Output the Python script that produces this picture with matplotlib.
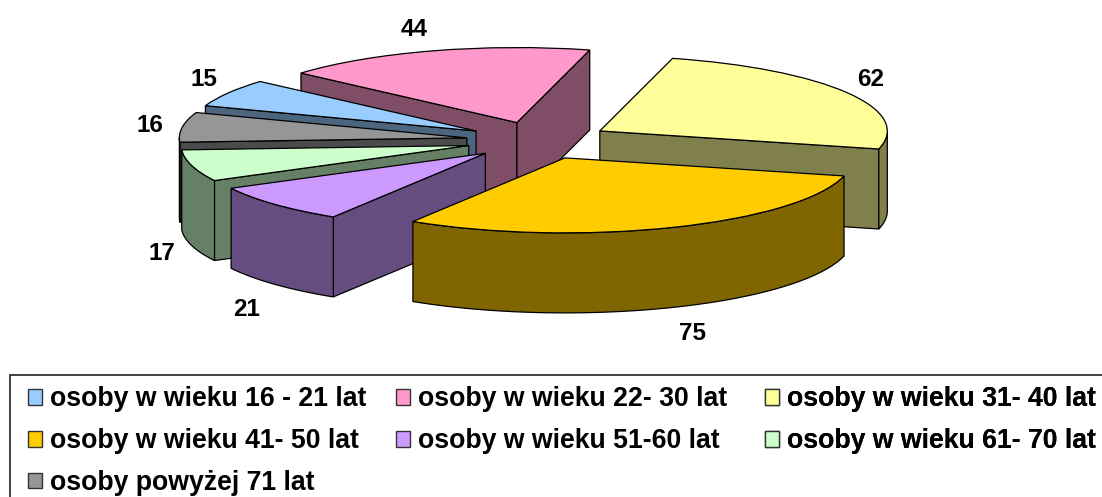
import matplotlib
matplotlib.use("Agg")
import matplotlib.pyplot as plt
from matplotlib.patches import Patch, Polygon, Rectangle
import numpy as np

plt.rcParams['font.family'] = ['Liberation Sans', 'DejaVu Sans']

# data
labels = ["osoby w wieku 16 - 21 lat", "osoby w wieku 22- 30 lat", "osoby w wieku 31- 40 lat",
          "osoby w wieku 41- 50 lat", "osoby w wieku 51-60 lat", "osoby w wieku 61- 70 lat",
          "osoby powyżej 71 lat"]
values = [15, 44, 62, 75, 21, 17, 16]
colors = ["#99CCFF", "#FF99CC", "#FFFF99", "#FFCC00", "#CC99FF", "#CCFFCC", "#969696"]
walls = ["#4D6680", "#804D66", "#80804D", "#806600", "#664D80", "#668066", "#4B4B4B"]
paint_order = [1, 2, 0, 6, 5, 4, 3]
# where the value labels sit, in pixels
label_px = [(204, 79), (414, 29), (871, 79), (693, 334), (247, 309), (162, 253), (150, 126)]

W, H = 1102, 497
cx, cy = 538.0, 140.5   # pie centre
rx, ry = 287.5, 75.0    # ellipse radii
depth = 80.0 / ry

fig = plt.figure(figsize=(W / 100, H / 100), dpi=100)
ax = fig.add_axes([0, 0, 1, 1])

wedges, _ = ax.pie(values, colors=colors, explode=[0.25] * len(values), startangle=160.3,
                   counterclock=False, radius=1, frame=False,
                   wedgeprops=dict(edgecolor="black", linewidth=0.9))
ax.set_aspect("auto")
ax.set_xlim(-cx / rx, (W - cx) / rx)
ax.set_ylim((cy - H) / ry, cy / ry)
ax.axis("off")


def radial_wall(c, t):
    x = c[0] + np.cos(np.radians(t))
    y = c[1] + np.sin(np.radians(t))
    return [c, (x, y), (x, y - depth), (c[0], c[1] - depth)]


for z, i in enumerate(paint_order):
    w = wedges[i]
    w.set_zorder(z + 0.5)
    c = w.center
    faces = []
    # clockwise pie, so theta2 is the leading edge
    if np.cos(np.radians(w.theta2)) < 0:
        faces.append(radial_wall(c, w.theta2))
    if np.cos(np.radians(w.theta1)) > 0:
        faces.append(radial_wall(c, w.theta1))
    t = np.linspace(w.theta1, w.theta2, 600)
    t = t[np.sin(np.radians(t)) <= 0]
    if len(t) > 1:
        ax_x = c[0] + np.cos(np.radians(t))
        ax_y = c[1] + np.sin(np.radians(t))
        top = np.column_stack([ax_x, ax_y])
        bottom = np.column_stack([ax_x, ax_y - depth])[::-1]
        faces.append(np.vstack([top, bottom]))
    for f in faces:
        ax.add_patch(Polygon(f, closed=True, facecolor=walls[i], edgecolor="black",
                             linewidth=0.9, zorder=z))

for v, (px, py) in zip(values, label_px):
    ax.text((px - cx) / rx, (cy - py) / ry, str(v), fontsize=17.5, fontweight="bold",
            ha="center", va="center", color="black", zorder=20)

# frame runs off the right and bottom of the picture
ax.add_patch(Rectangle((10 / W, -0.1), 1.1, 1 - 375 / H + 0.1, transform=ax.transAxes,
                       facecolor="none", edgecolor="#222222", linewidth=1.2, clip_on=False,
                       zorder=25))

handles = [Patch(facecolor=c, edgecolor="#333333", linewidth=1) for c in colors]
# one legend per column, the gaps in the reference are uneven
columns = [[0, 3, 6], [1, 4], [2, 5]]
col_px = [28, 396, 765]
for col, px in zip(columns, col_px):
    leg = ax.legend([handles[i] for i in col], [labels[i] for i in col],
                    loc="upper left", bbox_to_anchor=(px / W, 1 - 386.5 / H), borderaxespad=0,
                    frameon=False, prop=dict(size=19.2, weight="bold"),
                    handlelength=0.53, handleheight=0.53, handletextpad=0.3,
                    labelspacing=0.59, borderpad=0)
    leg.set_zorder(30)
    ax.add_artist(leg)

fig.savefig("out.png", dpi=100)
